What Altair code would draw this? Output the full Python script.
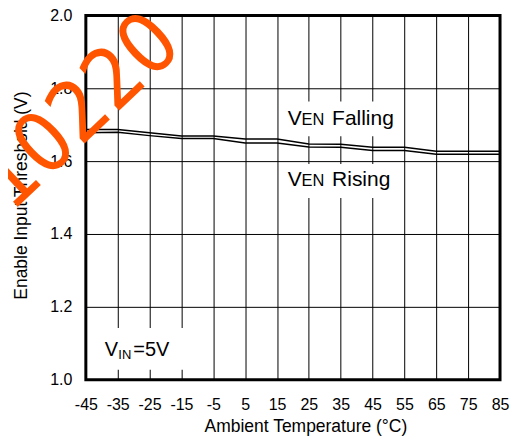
import altair as alt
import pandas as pd

# ---- data ----
temps = [-45, -35, -25, -15, -5, 5, 15, 25, 35, 45, 55, 65, 75, 85]
ven_falling = [1.687, 1.687, 1.678, 1.669, 1.669, 1.661, 1.661, 1.647, 1.646, 1.638, 1.638, 1.627, 1.627, 1.627]
ven_rising = [1.678, 1.679, 1.670, 1.662, 1.662, 1.650, 1.650, 1.639, 1.638, 1.629, 1.629, 1.619, 1.619, 1.619]

x_ticks = [-45, -35, -25, -15, -5, 5, 15, 25, 35, 45, 55, 65, 75, 85]
y_ticks = [1.0, 1.2, 1.4, 1.6, 1.8, 2.0]

# annotation text pieces (text, x, y, font size)
ann_text = ["V", "EN", "Falling", "V", "EN", "Rising", "V", "IN", "=5V"]
ann_x = [18.4, 22.7, 32.3, 18.4, 22.7, 32.3, -39.05, -34.8, -30.1]
ann_y = [1.7005, 1.7005, 1.7005, 1.5315, 1.5315, 1.5315, 1.0658, 1.0575, 1.0658]
ann_size = [21, 16.5, 21, 21, 16.5, 21, 20, 13, 20]

# white label backgrounds (data units)
box_x = [16.7, 16.7, -42.2]
box_x2 = [53.4, 53.4, -7.7]
box_y = [1.764, 1.592, 1.142]
box_y2 = [1.668, 1.499, 1.027]

# watermark
wm_text = ["10220"]
wm_x = [-46.6]
wm_y = [1.733]

lines_df = pd.DataFrame({
    "x": temps * 2,
    "y": ven_falling + ven_rising,
    "series": ["VEN Falling"] * len(temps) + ["VEN Rising"] * len(temps),
})
ann_df = pd.DataFrame({"x": ann_x, "y": ann_y, "text": ann_text, "size": ann_size})
box_df = pd.DataFrame({"x": box_x, "x2": box_x2, "y": box_y, "y2": box_y2})
wm_df = pd.DataFrame({"x": wm_x, "y": wm_y, "text": wm_text})

FONT = "Liberation Sans"

xscale = alt.Scale(domain=[-45, 85], nice=False, zero=False)
yscale = alt.Scale(domain=[1.0, 2.0], nice=False, zero=False)

x_axis = alt.Axis(values=x_ticks, title="Ambient Temperature (°C)", grid=True,
                  labelExpr="toString(datum.value)", labelOverlap=False, labelFlush=False,
                  gridColor="#000000", gridWidth=1, gridOpacity=1, ticks=False, domain=False,
                  labelFont=FONT, labelFontSize=16, labelColor="#000000", labelPadding=17,
                  titleFont=FONT, titleFontSize=17.5, titleFontWeight="normal", titleColor="#000000",
                  titleX=220, titleY=52, titleBaseline="alphabetic", titleAlign="center")
y_axis = alt.Axis(values=y_ticks, format=".1f", title="Enable Input Threshold  (V)", grid=True,
                  labelOverlap=False, labelFlush=False,
                  gridColor="#000000", gridWidth=1, gridOpacity=1, ticks=False, domain=False,
                  labelFont=FONT, labelFontSize=16, labelColor="#000000", labelPadding=14,
                  titleFont=FONT, titleFontSize=17.5, titleFontWeight="normal", titleColor="#000000",
                  titleX=-64, titleY=180, titleBaseline="middle", titleAlign="center", titleAngle=270)

X = alt.X("x:Q", scale=xscale, axis=x_axis)
Y = alt.Y("y:Q", scale=yscale, axis=y_axis)

boxes = alt.Chart(box_df).mark_rect(color="white", opacity=1).encode(
    x=X, x2="x2:Q", y=Y, y2="y2:Q"
)

lines = alt.Chart(lines_df).mark_line(color="black", strokeWidth=1.5, interpolate="linear").encode(
    x=X, y=Y, detail="series:N"
)

ann = alt.Chart(ann_df).mark_text(align="left", baseline="alphabetic", font=FONT, color="black").encode(
    x=X, y=Y, text="text:N", size=alt.Size("size:Q", scale=None, legend=None)
)

wm = alt.Chart(wm_df).mark_text(align="center", baseline="middle",
                                font="DejaVu Sans Condensed",
                                fontSize=84, color="#FF5500", angle=316.5).encode(
    x=X, y=Y, text="text:N"
)

chart = alt.layer(boxes, lines, ann, wm).properties(
    width=415, height=365,
    autosize=alt.AutoSizeParams(type="none"),
    padding={"left": 78, "top": 7, "right": 10, "bottom": 57},
).configure_view(stroke="black", strokeWidth=3)

chart.save("out.html", embed_options={"renderer": "svg", "actions": False})
